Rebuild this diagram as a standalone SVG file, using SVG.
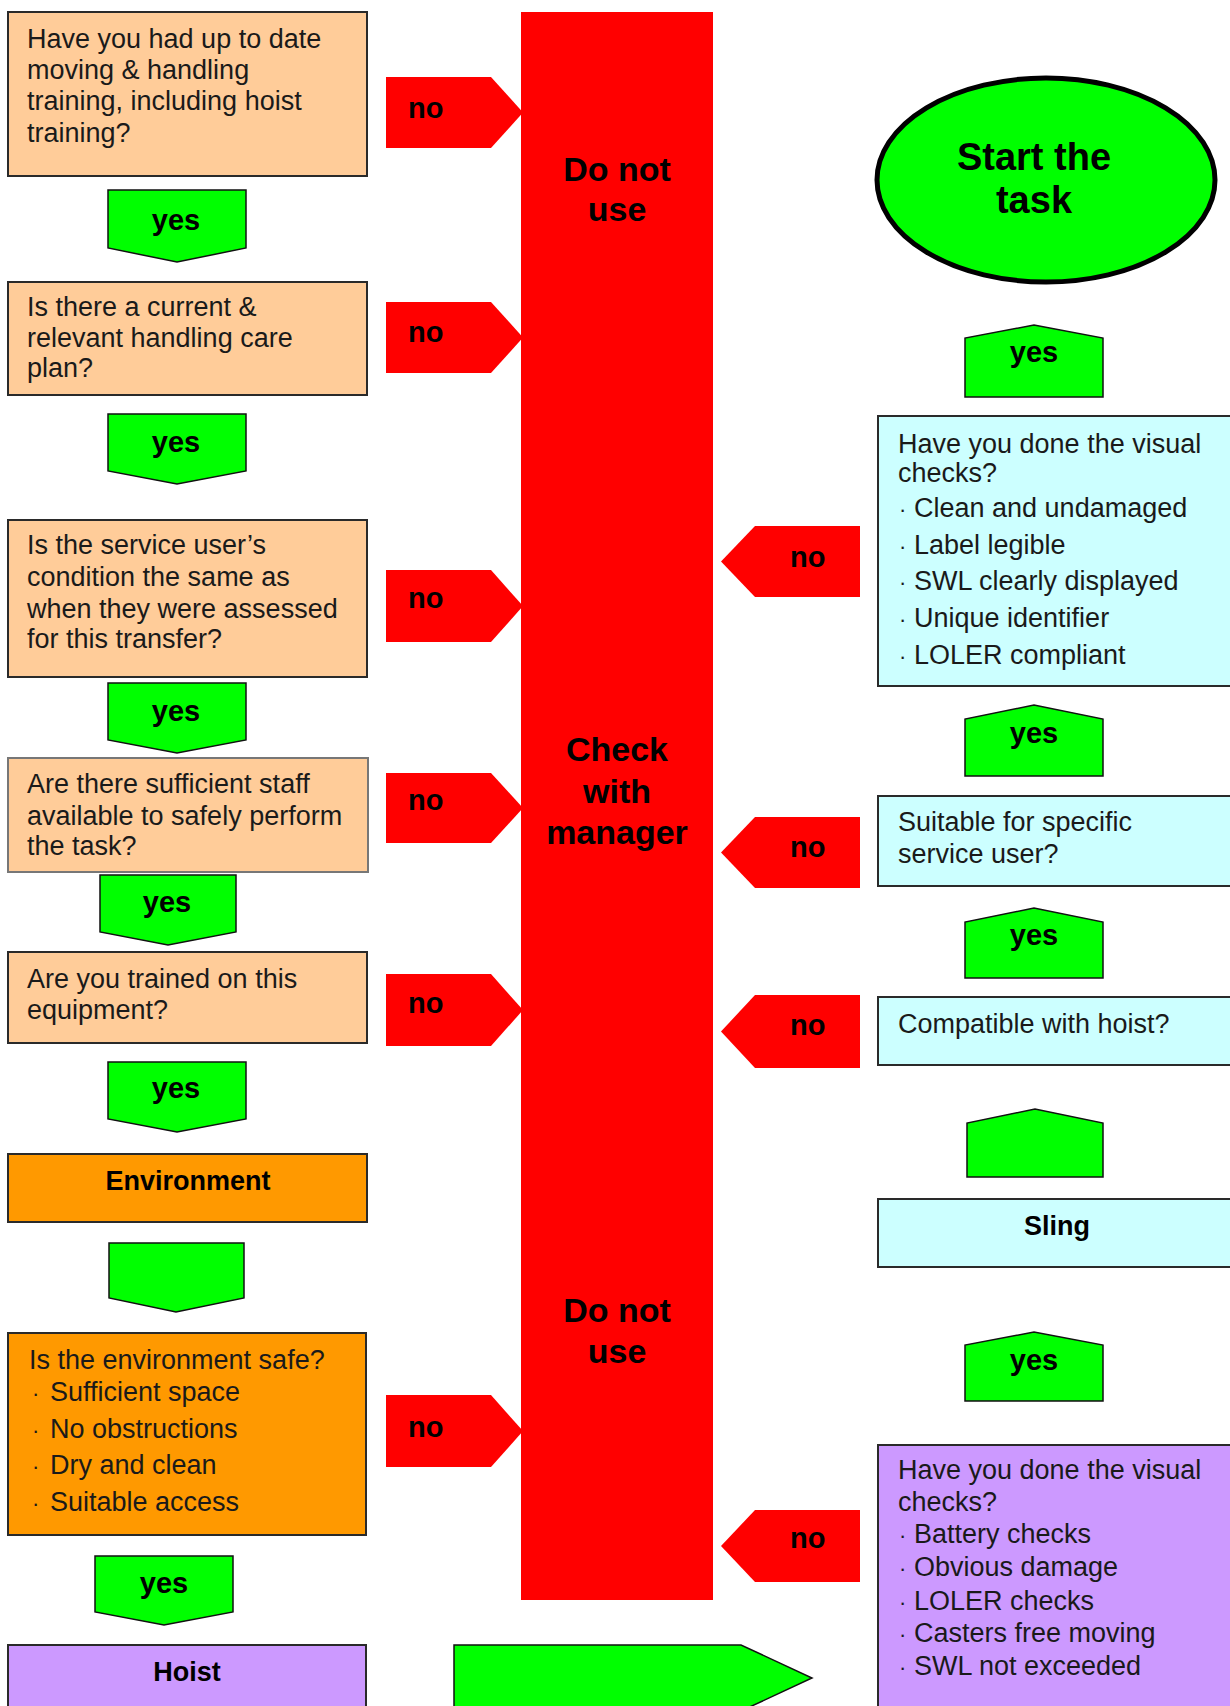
<svg xmlns="http://www.w3.org/2000/svg" width="1230" height="1706" viewBox="0 0 1230 1706">
<style>
.box{stroke:#2a2a2a;stroke-width:2}
.peach{fill:#FFCC99}
.orange{fill:#FF9900}
.cyan{fill:#CCFFFF}
.purple{fill:#CC99FF}
.grn{fill:#00FF00;stroke:#111;stroke-width:1.5}
.red{fill:#FF0000}
.t{font-family:"Liberation Sans",Arial,sans-serif;font-size:27px;fill:#1a1a1a}
.b{font-family:"Liberation Sans",Arial,sans-serif;font-weight:bold;fill:#000}
.yn{font-size:29px}
.lbl{font-size:27px;text-anchor:middle}
.col{font-size:34px;text-anchor:middle}
.dot{font-size:22px}
</style>
<rect width="1230" height="1706" fill="#fff"/>

<g id="col-do-not-use">
<rect class="red" x="521" y="12" width="192" height="1588"/>
<text class="b col" x="617" y="181">Do not</text>
<text class="b col" x="617" y="221">use</text>
<text class="b col" x="617" y="761">Check</text>
<text class="b col" x="617" y="803">with</text>
<text class="b col" x="617" y="844">manager</text>
<text class="b col" x="617" y="1322">Do not</text>
<text class="b col" x="617" y="1363">use</text>
</g>

<g id="q-training">
<rect class="box peach" x="8" y="12" width="359" height="164"/>
<text class="t" x="27" y="48">Have you had up to date</text>
<text class="t" x="27" y="79">moving &amp; handling</text>
<text class="t" x="27" y="110">training, including hoist</text>
<text class="t" x="27" y="142">training?</text>
</g>
<g id="q-care-plan">
<rect class="box peach" x="8" y="282" width="359" height="113"/>
<text class="t" x="27" y="316">Is there a current &amp;</text>
<text class="t" x="27" y="347">relevant handling care</text>
<text class="t" x="27" y="377">plan?</text>
</g>
<g id="q-condition">
<rect class="box peach" x="8" y="520" width="359" height="157"/>
<text class="t" x="27" y="554">Is the service user’s</text>
<text class="t" x="27" y="586">condition the same as</text>
<text class="t" x="27" y="618">when they were assessed</text>
<text class="t" x="27" y="648">for this transfer?</text>
</g>
<g id="q-staff">
<rect class="peach" x="8" y="758" width="360" height="114" stroke="#777" stroke-width="2"/>
<text class="t" x="27" y="793">Are there sufficient staff</text>
<text class="t" x="27" y="825">available to safely perform</text>
<text class="t" x="27" y="855">the task?</text>
</g>
<g id="q-trained">
<rect class="box peach" x="8" y="952" width="359" height="91"/>
<text class="t" x="27" y="988">Are you trained on this</text>
<text class="t" x="27" y="1019">equipment?</text>
</g>
<g id="environment">
<rect class="box orange" x="8" y="1154" width="359" height="68"/>
<text class="b lbl" x="188" y="1190">Environment</text>
</g>
<g id="q-env-safe">
<rect class="box orange" x="8" y="1333" width="358" height="202"/>
<text class="t" x="29" y="1369">Is the environment safe?</text>
<text class="t" x="32" y="1401"><tspan class="dot">·</tspan><tspan x="50">Sufficient space</tspan></text>
<text class="t" x="32" y="1438"><tspan class="dot">·</tspan><tspan x="50">No obstructions</tspan></text>
<text class="t" x="32" y="1474"><tspan class="dot">·</tspan><tspan x="50">Dry and clean</tspan></text>
<text class="t" x="32" y="1511"><tspan class="dot">·</tspan><tspan x="50">Suitable access</tspan></text>
</g>
<g id="hoist">
<rect class="box purple" x="8" y="1645" width="358" height="80"/>
<text class="b lbl" x="187" y="1681">Hoist</text>
</g>

<g id="start">
<ellipse cx="1046" cy="180" rx="169" ry="102" fill="#00FF00" stroke="#000" stroke-width="5"/>
<text class="b" x="1034" y="170" font-size="38" text-anchor="middle">Start the</text>
<text class="b" x="1034" y="213" font-size="38" text-anchor="middle">task</text>
</g>
<g id="q-sling-visual">
<rect class="box cyan" x="878" y="416" width="362" height="270"/>
<text class="t" x="898" y="453">Have you done the visual</text>
<text class="t" x="898" y="482">checks?</text>
<text class="t" x="899" y="517"><tspan class="dot">·</tspan><tspan x="914">Clean and undamaged</tspan></text>
<text class="t" x="899" y="554"><tspan class="dot">·</tspan><tspan x="914">Label legible</tspan></text>
<text class="t" x="899" y="590"><tspan class="dot">·</tspan><tspan x="914">SWL clearly displayed</tspan></text>
<text class="t" x="899" y="627"><tspan class="dot">·</tspan><tspan x="914">Unique identifier</tspan></text>
<text class="t" x="899" y="664"><tspan class="dot">·</tspan><tspan x="914">LOLER compliant</tspan></text>
</g>
<g id="q-suitable">
<rect class="box cyan" x="878" y="796" width="362" height="90"/>
<text class="t" x="898" y="831">Suitable for specific</text>
<text class="t" x="898" y="863">service user?</text>
</g>
<g id="q-compatible">
<rect class="box cyan" x="878" y="997" width="362" height="68"/>
<text class="t" x="898" y="1033">Compatible with hoist?</text>
</g>
<g id="sling">
<rect class="box cyan" x="878" y="1199" width="362" height="68"/>
<text class="b lbl" x="1057" y="1235">Sling</text>
</g>
<g id="q-hoist-visual">
<rect class="box purple" x="878" y="1445" width="362" height="280"/>
<text class="t" x="898" y="1479">Have you done the visual</text>
<text class="t" x="898" y="1511">checks?</text>
<text class="t" x="899" y="1543"><tspan class="dot">·</tspan><tspan x="914">Battery checks</tspan></text>
<text class="t" x="899" y="1576"><tspan class="dot">·</tspan><tspan x="914">Obvious damage</tspan></text>
<text class="t" x="899" y="1610"><tspan class="dot">·</tspan><tspan x="914">LOLER checks</tspan></text>
<text class="t" x="899" y="1642"><tspan class="dot">·</tspan><tspan x="914">Casters free moving</tspan></text>
<text class="t" x="899" y="1675"><tspan class="dot">·</tspan><tspan x="914">SWL not exceeded</tspan></text>
</g>

<g id="connectors">
<!-- left yes arrows (down) -->
<g><polygon class="grn" points="108,190 246,190 246,248 177,262 108,248"/><text class="b yn" x="176" y="230" text-anchor="middle">yes</text></g>
<g><polygon class="grn" points="108,414 246,414 246,471 177,484 108,471"/><text class="b yn" x="176" y="452" text-anchor="middle">yes</text></g>
<g><polygon class="grn" points="108,683 246,683 246,740 177,753 108,740"/><text class="b yn" x="176" y="721" text-anchor="middle">yes</text></g>
<g><polygon class="grn" points="100,875 236,875 236,932 168,945 100,932"/><text class="b yn" x="167" y="912" text-anchor="middle">yes</text></g>
<g><polygon class="grn" points="108,1062 246,1062 246,1119 177,1132 108,1119"/><text class="b yn" x="176" y="1098" text-anchor="middle">yes</text></g>
<g><polygon class="grn" points="109,1243 244,1243 244,1298 176,1312 109,1298"/></g>
<g><polygon class="grn" points="95,1556 233,1556 233,1612 164,1625 95,1612"/><text class="b yn" x="164" y="1593" text-anchor="middle">yes</text></g>
<!-- left no arrows (right) -->
<g><polygon class="red" points="386,77 491,77 523,112.5 491,148 386,148"/><text class="b yn" x="408" y="118">no</text></g>
<g><polygon class="red" points="386,302 491,302 523,337.5 491,373 386,373"/><text class="b yn" x="408" y="342">no</text></g>
<g><polygon class="red" points="386,570 491,570 523,606 491,642 386,642"/><text class="b yn" x="408" y="608">no</text></g>
<g><polygon class="red" points="386,773 491,773 523,808 491,843 386,843"/><text class="b yn" x="408" y="810">no</text></g>
<g><polygon class="red" points="386,974 491,974 523,1010 491,1046 386,1046"/><text class="b yn" x="408" y="1013">no</text></g>
<g><polygon class="red" points="386,1395 491,1395 523,1431 491,1467 386,1467"/><text class="b yn" x="408" y="1437">no</text></g>
<!-- right no arrows (left) -->
<g><polygon class="red" points="860,526 755,526 721,561.5 755,597 860,597"/><text class="b yn" x="790" y="567">no</text></g>
<g><polygon class="red" points="860,817 755,817 721,852.5 755,888 860,888"/><text class="b yn" x="790" y="857">no</text></g>
<g><polygon class="red" points="860,995 755,995 721,1031.5 755,1068 860,1068"/><text class="b yn" x="790" y="1035">no</text></g>
<g><polygon class="red" points="860,1510 755,1510 721,1546 755,1582 860,1582"/><text class="b yn" x="790" y="1548">no</text></g>
<!-- right yes arrows (up) -->
<g><polygon class="grn" points="965,397 965,338 1034,325 1103,338 1103,397"/><text class="b yn" x="1034" y="362" text-anchor="middle">yes</text></g>
<g><polygon class="grn" points="965,776 965,719 1034,705 1103,719 1103,776"/><text class="b yn" x="1034" y="743" text-anchor="middle">yes</text></g>
<g><polygon class="grn" points="965,978 965,922 1034,908 1103,922 1103,978"/><text class="b yn" x="1034" y="945" text-anchor="middle">yes</text></g>
<g><polygon class="grn" points="967,1177 967,1123 1035,1109 1103,1123 1103,1177"/></g>
<g><polygon class="grn" points="965,1401 965,1345 1034,1332 1103,1345 1103,1401"/><text class="b yn" x="1034" y="1370" text-anchor="middle">yes</text></g>
<!-- bottom big arrow -->
<g><polygon class="grn" points="454,1645 741,1645 812,1678 741,1711 454,1711"/></g>
</g>
</svg>
